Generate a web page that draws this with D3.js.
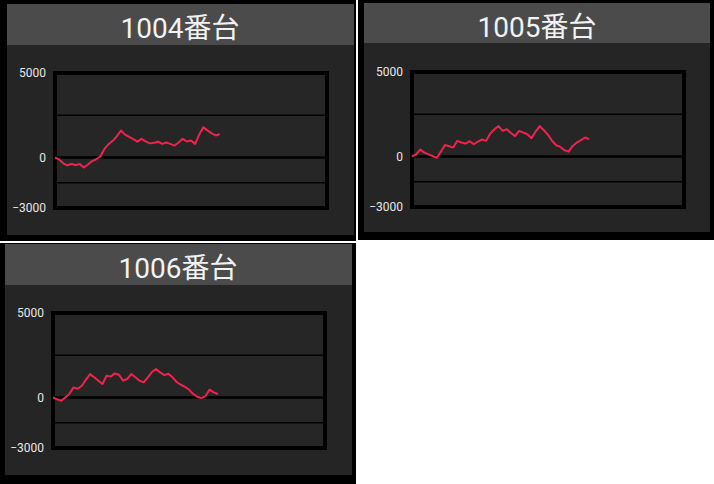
<!DOCTYPE html>
<meta charset="utf-8">
<script src="https://d3js.org/d3.v7.min.js"></script>
<style type="text/css">
body { margin:0; background:#fff; }
svg { display:block; }
</style>
<body>
</body>
<script>

// machine names
var titles = ["1004番台", "1005番台", "1006番台"];

// difference (medals) per step
var slump1004 = [0,-120,-350,-470,-390,-450,-400,-600,-420,-220,-110,50,500,780,980,1250,1590,1350,1220,1080,
  930,1100,950,830,860,940,800,880,800,700,880,1100,940,1000,800,1350,1790,1600,1420,1300,1380];
var slump1005 = [0,120,400,220,120,20,-80,280,680,600,520,920,820,760,900,720,880,1000,920,1350,
  1610,1790,1510,1610,1390,1200,1510,1410,1310,1080,1470,1790,1550,1270,920,660,560,360,280,620,820,960,1120,1020];
var slump1006 = [0,-120,-200,0,220,590,510,690,1050,1380,1190,990,790,1280,1230,1420,1340,990,1090,1380,
  1190,990,890,1190,1500,1680,1480,1320,1400,1190,910,750,630,460,200,40,-40,80,460,300,200];

var series = [slump1004, slump1005, slump1006];

// y axis
var yTicks = [5000, 0, -3000];
var gridLines = [2500, -1500];
var yMin = -3000, yMax = 5000;
var xMax = 66;

// panel placement (outer black box, inner content box)
var panels = [
  {bx:0,   by:0,   bw:356, bh:241, x:7,   y:4,   w:347, h:231, head:41},
  {bx:358, by:0,   bw:356, bh:240, x:364, y:3,   w:346, h:229, head:40},
  {bx:0,   by:243, bw:356, bh:241, x:5,   y:244, w:347, h:231, head:41}
];

var svg = d3.select('body').append('svg')
  .attr('width', 714)
  .attr('height', 484);

var plot = {left:48, right:320, top:69, bottom:204};

var xScale = d3.scaleLinear()
  .domain([0, xMax])
  .range([plot.left, plot.right]);

var yScale = d3.scaleLinear()
  .domain([yMin, yMax])
  .range([plot.bottom, plot.top]);

var line = d3.line()
  .x(function(d, i) { return xScale(i); })
  .y(function(d) { return yScale(d); });

panels.forEach(function(p, k) {
  svg.append('rect')
    .attr('x', p.bx).attr('y', p.by)
    .attr('width', p.bw).attr('height', p.bh)
    .attr('fill', '#000');

  var g = svg.append('g')
    .attr('transform', 'translate(' + p.x + ',' + p.y + ')');

  g.append('rect')
    .attr('width', p.w).attr('height', p.h)
    .attr('fill', '#252525');

  g.append('rect')
    .attr('width', p.w).attr('height', p.head)
    .attr('fill', '#4b4b4b');

  g.append('text')
    .attr('x', 173)
    .attr('y', 34)
    .attr('text-anchor', 'middle')
    .attr('fill', '#f2f2f2')
    .style('font-family', 'Roboto, "Noto Sans CJK JP", sans-serif')
    .style('font-size', '28px')
    .text(titles[k]);

  // plot frame
  g.append('rect')
    .attr('x', plot.left).attr('y', plot.top)
    .attr('width', plot.right - plot.left)
    .attr('height', plot.bottom - plot.top)
    .attr('fill', '#262626')
    .attr('stroke', '#000')
    .attr('stroke-width', 4);

  g.selectAll('.grid')
    .data(gridLines)
    .enter().append('line')
    .attr('x1', plot.left).attr('x2', plot.right)
    .attr('y1', function(d) { return yScale(d); })
    .attr('y2', function(d) { return yScale(d); })
    .attr('stroke', '#000')
    .attr('stroke-width', 1.5);

  g.append('line')
    .attr('x1', plot.left).attr('x2', plot.right)
    .attr('y1', yScale(0)).attr('y2', yScale(0))
    .attr('stroke', '#000')
    .attr('stroke-width', 2.5);

  var yAxis = d3.axisLeft(yScale)
    .tickValues(yTicks)
    .tickSize(0)
    .tickPadding(0)
    .tickFormat(d3.format('d'));

  var ax = g.append('g')
    .attr('transform', 'translate(' + (plot.left - 9) + ',0)')
    .call(yAxis);
  ax.select('.domain').remove();
  ax.selectAll('text')
    .attr('fill', '#e6e6e6')
    .style('font-family', 'Roboto, sans-serif')
    .style('font-size', '12px');

  g.append('path')
    .datum(series[k])
    .attr('d', line)
    .attr('fill', 'none')
    .attr('stroke', '#ee2350')
    .attr('stroke-width', 2)
    .attr('stroke-linejoin', 'round');
});

</script>
